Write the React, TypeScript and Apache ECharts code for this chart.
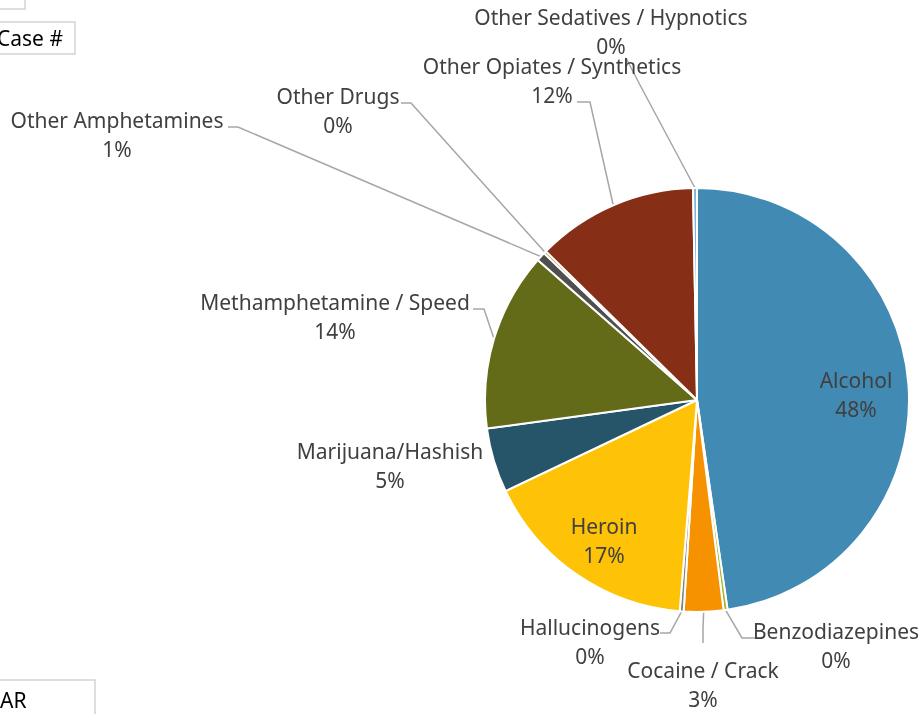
import React, { useEffect, useRef } from "react";
import * as echarts from "echarts";

const categories = [
  "Alcohol",
  "Benzodiazepines",
  "Cocaine / Crack",
  "Hallucinogens",
  "Heroin",
  "Marijuana/Hashish",
  "Methamphetamine / Speed",
  "Other Amphetamines",
  "Other Drugs",
  "Other Opiates / Synthetics",
  "Other Sedatives / Hypnotics",
];
const caseCounts = [476, 3, 30, 3, 166, 49, 136, 7, 2, 123, 3];
const sliceColors = [
  "#418AB3",
  "#A6B727",
  "#F69200",
  "#838383",
  "#FEC306",
  "#265469",
  "#646B18",
  "#4F4F4F",
  "#98750A",
  "#872F16",
  "#7FB7D6",
];
const insideLabels = ["Alcohol", "Heroin"];

// label layout (text block centre, elbow point, end point)
const labelPos: Record<string, { x: number; y: number; elbow?: number[]; end?: number[] }> = {
  "Alcohol": { x: 856, y: 394 },
  "Heroin": { x: 604, y: 540 },
  "Benzodiazepines": { x: 836, y: 645, elbow: [742, 638], end: [755, 638] },
  "Cocaine / Crack": { x: 703, y: 684, elbow: [703, 628], end: [703, 643] },
  "Hallucinogens": { x: 590, y: 641, elbow: [670, 633], end: [660, 633] },
  "Marijuana/Hashish": { x: 390, y: 465 },
  "Methamphetamine / Speed": { x: 335, y: 316, elbow: [484, 309], end: [473, 309] },
  "Other Amphetamines": { x: 117, y: 134, elbow: [238, 127], end: [228, 127] },
  "Other Drugs": { x: 338, y: 110, elbow: [411, 103], end: [401, 103] },
  "Other Opiates / Synthetics": { x: 552, y: 80, elbow: [590, 102], end: [577, 102] },
  "Other Sedatives / Hypnotics": { x: 611, y: 31, elbow: [640, 85], end: [626, 58] },
};

export default function App() {
  const ref = useRef<HTMLDivElement>(null);
  useEffect(() => {
    if (!ref.current) return;
    const chart = echarts.init(ref.current, null, { renderer: "svg" });
    const total = caseCounts.reduce((a, b) => a + b, 0);
    const font = "'Noto Sans', sans-serif";
    const data = categories.map((name, i) => {
      const inside = insideLabels.includes(name);
      return {
        name,
        value: caseCounts[i],
        itemStyle: { color: sliceColors[i] },
        label: { position: inside ? "inside" : "outside" },
        labelLine: { show: !inside && name !== "Marijuana/Hashish" },
      };
    });
    chart.setOption({
      animation: false,
      graphic: [
        { type: "rect", shape: { x: -10, y: -10, width: 35, height: 19 }, style: { fill: "#fff", stroke: "#D4D4D4", lineWidth: 1.5 } },
        { type: "rect", shape: { x: -10, y: 22, width: 85, height: 32 }, style: { fill: "#fff", stroke: "#D4D4D4", lineWidth: 1.5 } },
        { type: "text", x: -3, y: 38, style: { text: "Case #", fill: "#000", font: "21px 'Noto Sans', sans-serif", verticalAlign: "middle" } },
        { type: "rect", shape: { x: -10, y: 680, width: 105, height: 50 }, style: { fill: "#fff", stroke: "#D4D4D4", lineWidth: 1.5 } },
        { type: "text", x: 0, y: 700, style: { text: "AR", fill: "#000", font: "21px 'Noto Sans', sans-serif", verticalAlign: "middle" } },
      ],
      series: [
        {
          type: "pie",
          center: [697, 400],
          radius: [0, 212],
          startAngle: 90,
          clockwise: true,
          avoidLabelOverlap: false,
          minAngle: 0,
          itemStyle: { borderColor: "#fff", borderWidth: 2 },
          label: {
            show: true,
            color: "#404040",
            fontFamily: font,
            fontSize: 21,
            lineHeight: 29,
            align: "center",
            formatter: (p: any) => `${p.name}\n${Math.round((p.value / total) * 100)}%`,
          },
          labelLine: { show: true, lineStyle: { color: "#A6A6A6", width: 1.5 } },
          labelLayout: (params: any) => {
            const name = categories[params.dataIndex];
            const pos = labelPos[name];
            const out: any = { x: pos.x, y: pos.y, align: "center", verticalAlign: "middle" };
            if (pos.elbow && params.labelLinePoints) {
              out.labelLinePoints = [params.labelLinePoints[0], pos.elbow, pos.end];
            }
            return out;
          },
          data,
        },
      ],
    });
    return () => chart.dispose();
  }, []);
  return <div ref={ref} style={{ position: "fixed", left: 0, top: 0, width: 923, height: 714 }} />;
}
